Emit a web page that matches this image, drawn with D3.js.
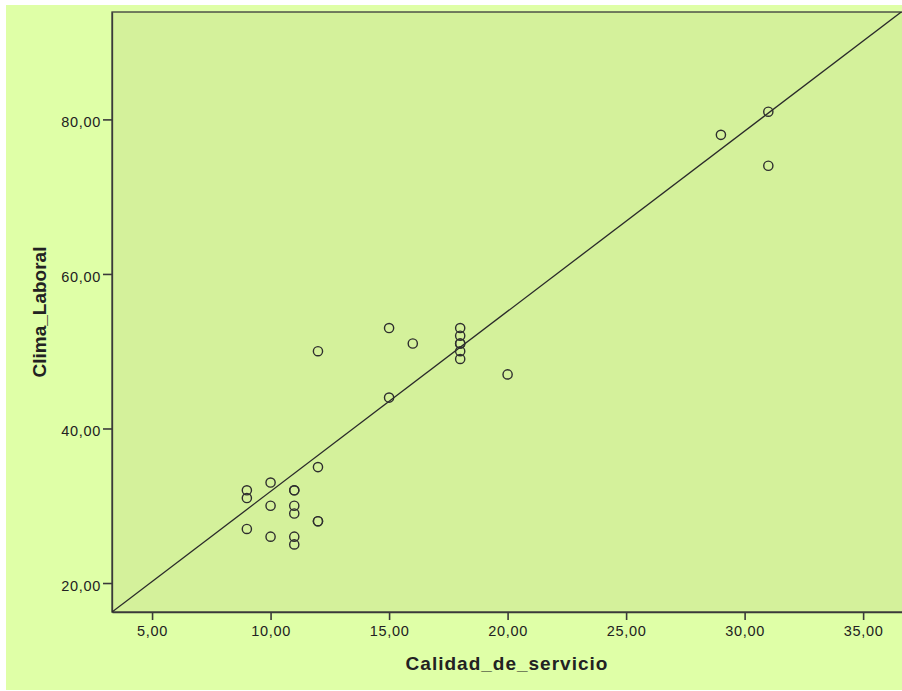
<!DOCTYPE html>
<html>
<head>
<meta charset="utf-8">
<script src="https://cdn.jsdelivr.net/npm/d3@7"></script>
<style>
  html, body { margin: 0; padding: 0; background: #ffffff; }
  svg { display: block; }
  text { font-family: "Liberation Sans", Arial, sans-serif; fill: #222; }
</style>
</head>
<body>
<script>
// ---- data ----
const calidadDeServicio = [9, 9, 9, 10, 10, 10, 11, 11, 11, 11, 11, 11, 12, 12, 12, 12, 15, 15, 16, 18, 18, 18, 18, 18, 18, 20, 29, 31, 31];
const climaLaboral      = [32, 31, 27, 33, 30, 26, 32, 32, 30, 29, 26, 25, 35, 28, 28, 50, 53, 44, 51, 53, 52, 51, 51, 50, 49, 47, 78, 81, 74];
const xTicks = [5, 10, 15, 20, 25, 30, 35];
const yTicks = [20, 40, 60, 80];
const xDomain = [3.31, 36.64];
const yDomain = [16.25, 93.9];
const fitIntercept = 8.53;
const fitSlope = 2.332;
const xTitle = "Calidad_de_servicio";
const yTitle = "Clima_Laboral";

// ---- layout ----
const W = 902, H = 691;
const plot = { left: 112, top: 12, right: 902, bottom: 612 };

const svg = d3.select("body").append("svg").attr("width", W).attr("height", H);

svg.append("rect").attr("x", 6).attr("y", 5).attr("width", W - 6).attr("height", 685)
  .attr("fill", "#dfffa7");

const x = d3.scaleLinear().domain(xDomain).range([plot.left, plot.right]);
const y = d3.scaleLinear().domain(yDomain).range([plot.bottom, plot.top]);

svg.append("rect")
  .attr("x", plot.left).attr("y", plot.top)
  .attr("width", plot.right - plot.left + 2).attr("height", plot.bottom - plot.top)
  .attr("fill", "#d4f19b").attr("stroke", "#3a3a3a").attr("stroke-width", 1.3);

const fmt = d => d3.format(".2f")(d).replace(".", ",");

// x axis
const xAxis = svg.append("g").attr("transform", `translate(0,${plot.bottom})`)
  .call(d3.axisBottom(x).tickValues(xTicks).tickFormat(fmt).tickSizeInner(8).tickSizeOuter(0).tickPadding(6));
xAxis.select(".domain").attr("stroke", "#3a3a3a").attr("stroke-width", 1.3);
xAxis.selectAll(".tick line").attr("stroke", "#3a3a3a").attr("stroke-width", 1.6);
xAxis.selectAll(".tick text").attr("font-size", 14.5).attr("letter-spacing", 0.7)
  .attr("font-family", "Liberation Sans, Arial, sans-serif").attr("fill", "#1a1a1a");

// y axis
const yAxis = svg.append("g").attr("transform", `translate(${plot.left},0)`)
  .call(d3.axisLeft(y).tickValues(yTicks).tickFormat(fmt).tickSizeInner(9).tickSizeOuter(0).tickPadding(2));
yAxis.select(".domain").attr("stroke", "#3a3a3a").attr("stroke-width", 1.3);
yAxis.selectAll(".tick line").attr("stroke", "#3a3a3a").attr("stroke-width", 1.6);
yAxis.selectAll(".tick text").attr("font-size", 14.5).attr("letter-spacing", 0.7)
  .attr("font-family", "Liberation Sans, Arial, sans-serif").attr("fill", "#1a1a1a").attr("dy", "0.5em");

// clip
svg.append("clipPath").attr("id", "clip").append("rect")
  .attr("x", plot.left).attr("y", plot.top)
  .attr("width", plot.right - plot.left + 5).attr("height", plot.bottom - plot.top);

// fit line
const lineData = xDomain.map(v => [v, fitIntercept + fitSlope * v]);
svg.append("path").attr("clip-path", "url(#clip)")
  .attr("d", d3.line().x(d => x(d[0])).y(d => y(d[1]))(lineData))
  .attr("fill", "none").attr("stroke", "#2a2a2a").attr("stroke-width", 1.3);

// points
svg.append("g").selectAll("circle")
  .data(calidadDeServicio.map((v, i) => [v, climaLaboral[i]]))
  .join("circle")
  .attr("cx", d => x(d[0])).attr("cy", d => y(d[1])).attr("r", 4.6)
  .attr("fill", "none").attr("stroke", "#2e2e2e").attr("stroke-width", 1.4);

// titles
svg.append("text").attr("x", (plot.left + plot.right) / 2).attr("y", 670)
  .attr("text-anchor", "middle").attr("font-size", 19).attr("font-weight", "bold")
  .attr("letter-spacing", 1).attr("fill", "#111").text(xTitle);

svg.append("text").attr("transform", `translate(46,${(plot.top + plot.bottom) / 2}) rotate(-90)`)
  .attr("text-anchor", "middle").attr("font-size", 19).attr("font-weight", "bold")
  .attr("fill", "#111").text(yTitle);
</script>
</body>
</html>
